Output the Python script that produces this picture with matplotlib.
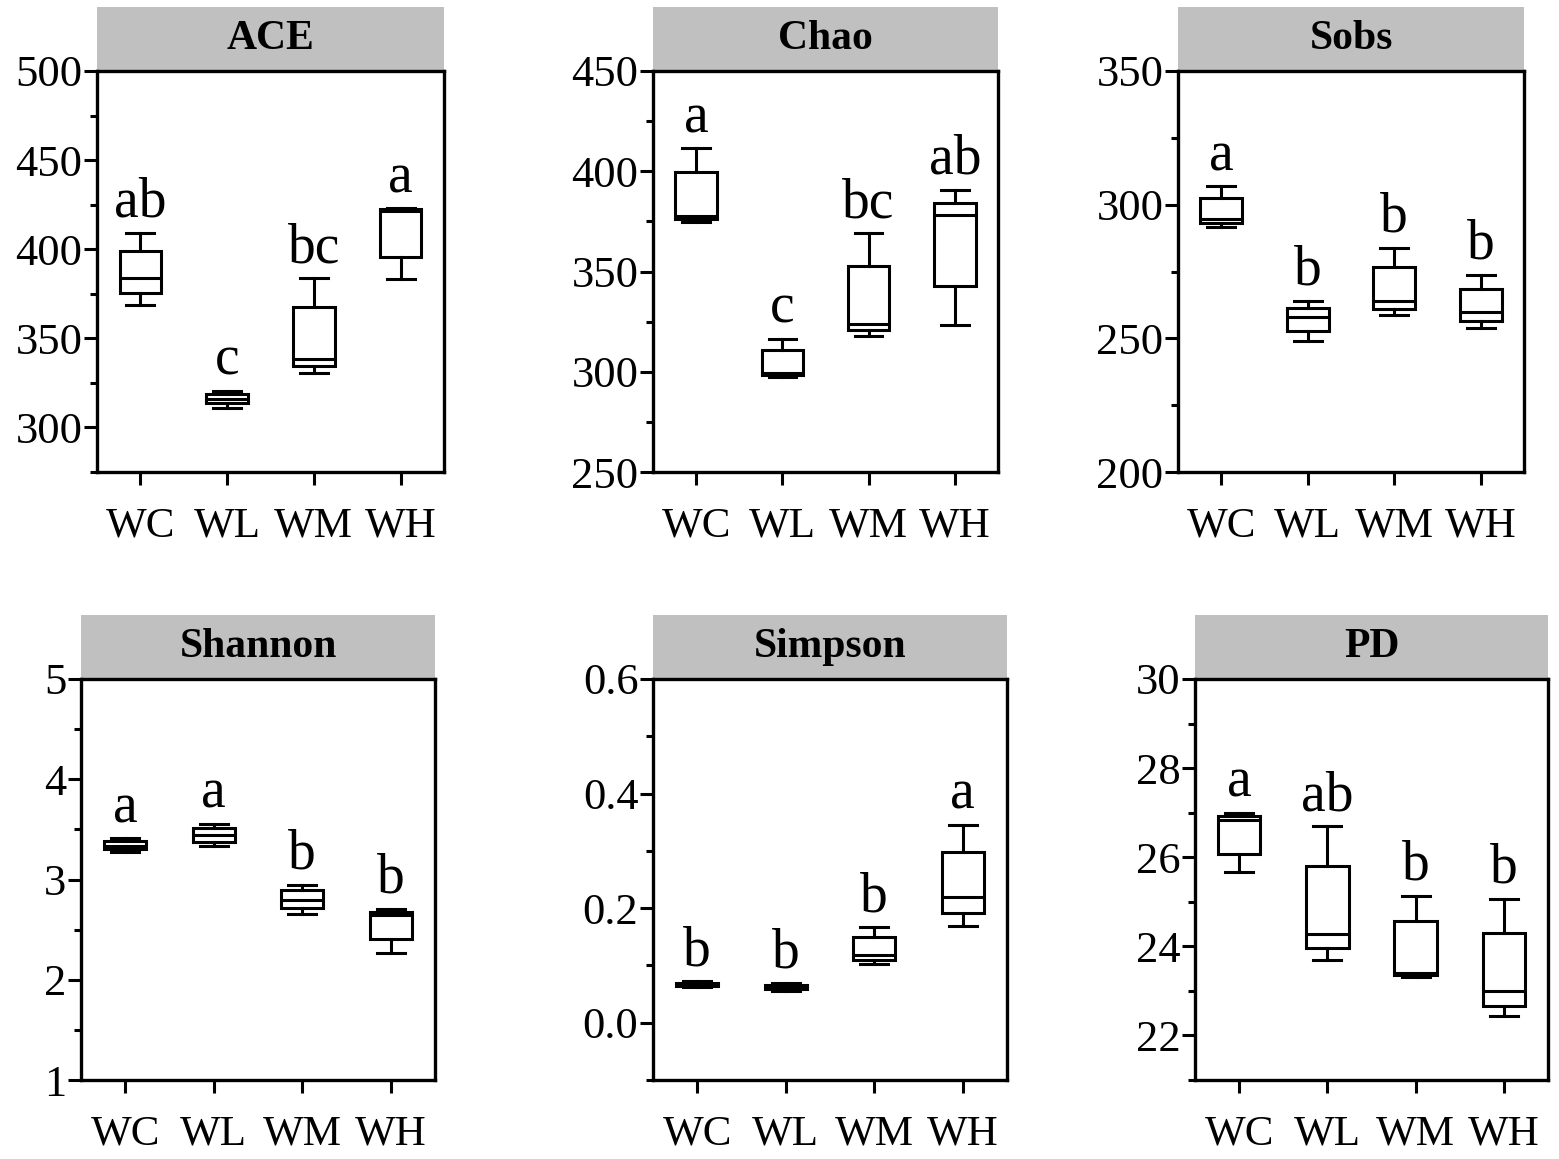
import matplotlib
matplotlib.use('Agg')
import matplotlib.pyplot as plt
from matplotlib.patches import Rectangle
from matplotlib.ticker import MultipleLocator, FormatStrFormatter

plt.rcParams['font.family'] = ['Liberation Serif', 'DejaVu Serif']

groups = ['WC', 'WL', 'WM', 'WH']

# five-number summaries per group: whisker low, Q1, median, Q3, whisker high
ace = [[368.9, 375.5, 384.0, 399.1, 409.2],
       [311.0, 313.5, 316.0, 318.5, 320.6],
       [330.6, 334.3, 338.3, 367.5, 383.6],
       [383.2, 395.7, 421.5, 422.5, 423.0]]
ace_letters = ['ab', 'c', 'bc', 'a']

chao = [[374.7, 376.0, 377.5, 399.7, 411.4],
        [297.4, 298.3, 299.5, 310.8, 316.4],
        [318.0, 321.0, 323.9, 352.9, 369.0],
        [323.3, 343.0, 378.3, 384.2, 390.8]]
chao_letters = ['a', 'c', 'bc', 'ab']

sobs = [[291.7, 293.1, 294.8, 302.6, 306.8],
        [248.9, 252.7, 258.1, 261.4, 264.1],
        [258.7, 261.0, 264.1, 276.5, 283.9],
        [254.0, 256.3, 260.0, 268.6, 273.7]]
sobs_letters = ['a', 'b', 'b', 'b']

shannon = [[3.27, 3.30, 3.33, 3.386, 3.41],
           [3.33, 3.375, 3.446, 3.518, 3.557],
           [2.657, 2.72, 2.80, 2.90, 2.946],
           [2.268, 2.41, 2.643, 2.68, 2.707]]
shannon_letters = ['a', 'a', 'b', 'b']

simpson = [[0.062, 0.064, 0.067, 0.070, 0.072],
           [0.056, 0.058, 0.061, 0.066, 0.069],
           [0.102, 0.109, 0.119, 0.149, 0.167],
           [0.169, 0.191, 0.219, 0.298, 0.346]]
simpson_letters = ['b', 'b', 'b', 'a']

pd_index = [[25.66, 26.07, 26.84, 26.92, 27.00],
            [23.70, 23.97, 24.28, 25.80, 26.69],
            [23.31, 23.36, 23.40, 24.56, 25.13],
            [22.43, 22.67, 23.00, 24.30, 25.07]]
pd_letters = ['a', 'ab', 'b', 'b']

fig = plt.figure(figsize=(15.59, 11.59), dpi=100)


def draw_panel(rect, title, summ, letters, ylim, major, minor, fmt):
    ax = fig.add_axes(rect)
    stats = [dict(whislo=s[0], q1=s[1], med=s[2], q3=s[3], whishi=s[4], fliers=[])
             for s in summ]
    pos = [1, 2, 3, 4]
    ax.bxp(stats, positions=pos, widths=0.48, capwidths=0.32, patch_artist=True,
           showfliers=False,
           boxprops=dict(facecolor='white', edgecolor='black', linewidth=2.2),
           medianprops=dict(color='black', linewidth=2.2),
           whiskerprops=dict(color='black', linewidth=2.2),
           capprops=dict(color='black', linewidth=2.2))
    ax.set_xlim(0.5, 4.5)
    ax.set_ylim(*ylim)
    ax.set_xticks(pos, groups)
    ax.yaxis.set_major_locator(MultipleLocator(major))
    ax.yaxis.set_minor_locator(MultipleLocator(minor))
    ax.yaxis.set_major_formatter(FormatStrFormatter(fmt))
    for sp in ax.spines.values():
        sp.set_linewidth(2.4)
    ax.tick_params(axis='both', which='major', direction='out', length=9.5,
                   width=2.2)
    ax.tick_params(axis='y', which='minor', direction='out', length=5, width=2.2)
    ax.tick_params(axis='x', which='minor', bottom=False)
    ax.tick_params(axis='y', pad=1, labelsize=32)
    ax.tick_params(axis='x', pad=16, labelsize=31)

    span = ylim[1] - ylim[0]
    for p, s, lab in zip(pos, summ, letters):
        ax.text(p, s[4] + 0.04 * span, lab, ha='center', va='baseline', fontsize=40)

    ax.add_patch(Rectangle((0, 1), 1, 0.16, transform=ax.transAxes, clip_on=False,
                           facecolor='#c0c0c0', edgecolor='none', zorder=0))
    ax.text(0.5, 1.08, title, transform=ax.transAxes, ha='center', va='center',
            fontsize=30, fontweight='bold')
    return ax


top_b, h = 1 - 472 / 1159, 401 / 1159
bot_b = 1 - 1080 / 1159

draw_panel([97 / 1559, top_b, 347 / 1559, h], 'ACE', ace, ace_letters,
           (275, 500), 50, 25, '%d')
draw_panel([653 / 1559, top_b, 345 / 1559, h], 'Chao', chao, chao_letters,
           (250, 450), 50, 25, '%d')
draw_panel([1178 / 1559, top_b, 346 / 1559, h], 'Sobs', sobs, sobs_letters,
           (200, 350), 50, 25, '%d')
draw_panel([81 / 1559, bot_b, 354 / 1559, h], 'Shannon', shannon, shannon_letters,
           (1, 5), 1, 0.5, '%d')
draw_panel([653 / 1559, bot_b, 354 / 1559, h], 'Simpson', simpson, simpson_letters,
           (-0.1, 0.6), 0.2, 0.1, '%.1f')
draw_panel([1195 / 1559, bot_b, 353 / 1559, h], 'PD', pd_index, pd_letters,
           (21, 30), 2, 1, '%d')

fig.savefig('out.png', dpi=100)
